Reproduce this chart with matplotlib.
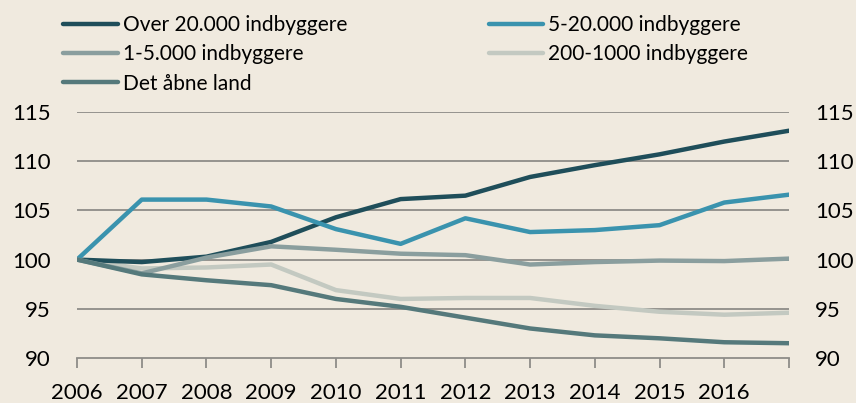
import matplotlib.pyplot as plt

years = list(range(2006, 2018))
year_labels = [str(y) for y in range(2006, 2017)] + [""]

over_20000 = [100, 99.75, 100.3, 101.8, 104.3, 106.15, 106.5, 108.4, 109.6, 110.7, 112.0, 113.1]
mid_5_20000 = [100, 106.1, 106.1, 105.4, 103.1, 101.6, 104.2, 102.8, 103.0, 103.5, 105.8, 106.6]
small_1_5000 = [100, 98.6, 100.2, 101.35, 101.0, 100.6, 100.45, 99.5, 99.75, 99.9, 99.85, 100.1]
tiny_200_1000 = [100, 99.1, 99.2, 99.5, 96.9, 96.0, 96.1, 96.1, 95.3, 94.7, 94.4, 94.6]
rural = [100, 98.5, 97.9, 97.4, 96.0, 95.2, 94.1, 93.0, 92.3, 92.0, 91.6, 91.5]

plt.rcParams['font.family'] = ['Lato', 'DejaVu Sans']
bg = '#F0EADF'

fig = plt.figure(figsize=(8.56, 4.03), dpi=100, facecolor=bg)
ax = fig.add_axes([0.09, 0.1117, 0.8317, 0.6103], facecolor=bg)

for y in [95, 100, 105, 110, 115]:
    ax.axhline(y, color='#8E8C88', lw=1.3, zorder=1)

lw = 3.2
l1, = ax.plot(years, over_20000, color='#1F4E5A', lw=lw, solid_capstyle='round', label='Over 20.000 indbyggere', zorder=3)
l2, = ax.plot(years, mid_5_20000, color='#3A93AE', lw=lw, solid_capstyle='round', label='5-20.000 indbyggere', zorder=3)
l3, = ax.plot(years, small_1_5000, color='#8A9E9E', lw=lw, solid_capstyle='round', label='1-5.000 indbyggere', zorder=3)
l4, = ax.plot(years, tiny_200_1000, color='#C3C9C1', lw=lw, solid_capstyle='round', label='200-1000 indbyggere', zorder=2)
l5, = ax.plot(years, rural, color='#55797B', lw=lw, solid_capstyle='round', label='Det åbne land', zorder=3)

ax.set_xlim(2006, 2017)
ax.set_ylim(90, 115)
ax.set_yticks([90, 95, 100, 105, 110, 115])
ax.set_xticks(years)
ax.set_xticklabels(year_labels)

for s in ['top', 'left', 'right']:
    ax.spines[s].set_visible(False)
ax.spines['bottom'].set_color('#8E8C88')
ax.spines['bottom'].set_linewidth(1.3)

ax.tick_params(axis='y', left=False, right=False, labelleft=True, labelright=True,
               length=0, labelsize=16, pad=19, colors='black')
ax.tick_params(axis='x', direction='out', length=7, width=1.3, color='#8E8C88',
               labelsize=16, pad=11)

order = [l1, l3, l5, l2, l4]
leg = fig.legend(order, [l.get_label() for l in order],
                 ncol=2, loc='upper left', bbox_to_anchor=(0.074, 0.963),
                 frameon=False, fontsize=15, handlelength=2.6, handletextpad=0.25,
                 labelspacing=0.45, columnspacing=6.8, borderaxespad=0, borderpad=0)

fig.savefig('out.png', dpi=100, facecolor=bg)
